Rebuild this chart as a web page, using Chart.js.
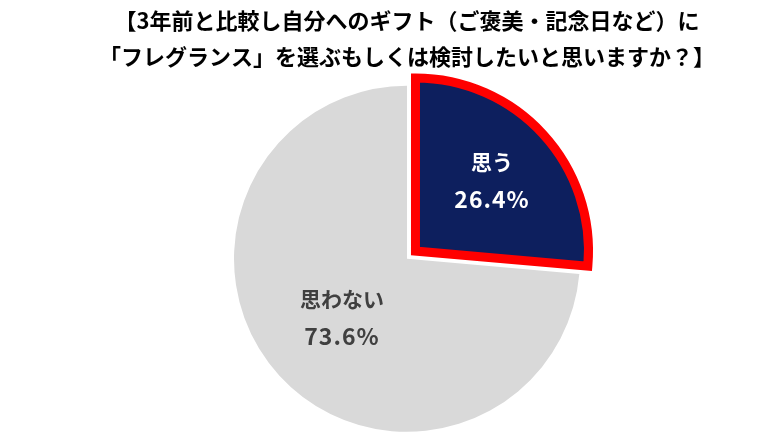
<!DOCTYPE html>
<html>
<head>
<meta charset="utf-8">
<script src="https://cdn.jsdelivr.net/npm/chart.js@4"></script>
<style>
  html, body { margin: 0; padding: 0; background: #fff; }
  #wrap { width: 770px; height: 433px; }
</style>
</head>
<body>
<div id="wrap"><canvas id="pie-chart" width="770" height="433"></canvas></div>
<script>
// data
const titleLines = [
  "【3年前と比較し自分へのギフト（ご褒美・記念日など）に",
  "「フレグランス」を選ぶもしくは検討したいと思いますか？】"
];
const labels = ["思う", "思わない"];
const values = [26.4, 73.6];

const fontFam = "'Noto Sans CJK JP', 'Noto Sans', sans-serif";

// labels inside the slices
const sliceLabels = {
  id: 'sliceLabels',
  afterDatasetsDraw(chart) {
    const ctx = chart.ctx;
    const arcs = chart.getDatasetMeta(0).data;
    const factor = [0.6, 0.51];
    const colors = ['#ffffff', '#404040'];
    arcs.forEach((arc, i) => {
      const p = arc.getProps(['x', 'y', 'startAngle', 'endAngle', 'outerRadius'], true);
      const mid = (p.startAngle + p.endAngle) / 2;
      const r = p.outerRadius * factor[i];
      const off = (arc.options.offset || 0) / 4;
      const cx = p.x + Math.cos(mid) * (r + off);
      const cy = p.y + Math.sin(mid) * (r + off);
      ctx.save();
      ctx.fillStyle = colors[i];
      ctx.textAlign = 'center';
      ctx.textBaseline = 'middle';
      ctx.font = "bold 21px " + fontFam;
      ctx.fillText(labels[i], cx, cy - 19);
      ctx.font = "bold 23px " + fontFam;
      ctx.letterSpacing = '1px';
      ctx.fillText(values[i].toFixed(1) + '%', cx, cy + 18);
      ctx.restore();
    });
  }
};

const pieCanvas = document.getElementById('pie-chart');
let pieChart = new Chart(pieCanvas, {
  type: 'pie',
  data: {
    labels: labels,
    datasets: [{
      data: values,
      backgroundColor: ['#0d1f5e', '#d9d9d9'],
      borderColor: ['#ff0000', '#ffffff'],
      borderWidth: [9, 0],
      offset: [46, 0],
      borderJoinStyle: 'miter'
    }]
  },
  options: {
    responsive: false,
    animation: { duration: 0 },
    radius: 173,
    layout: { padding: { left: 44, right: 0, top: 0, bottom: 0 } },
    plugins: {
      legend: { display: false },
      tooltip: { enabled: false },
      title: {
        display: true,
        text: titleLines,
        color: '#000000',
        font: { family: fontFam, size: 22, weight: 'bold', lineHeight: 1.65 },
        padding: { top: 2, bottom: 10 }
      }
    }
  },
  plugins: [sliceLabels]
});
</script>
</body>
</html>
